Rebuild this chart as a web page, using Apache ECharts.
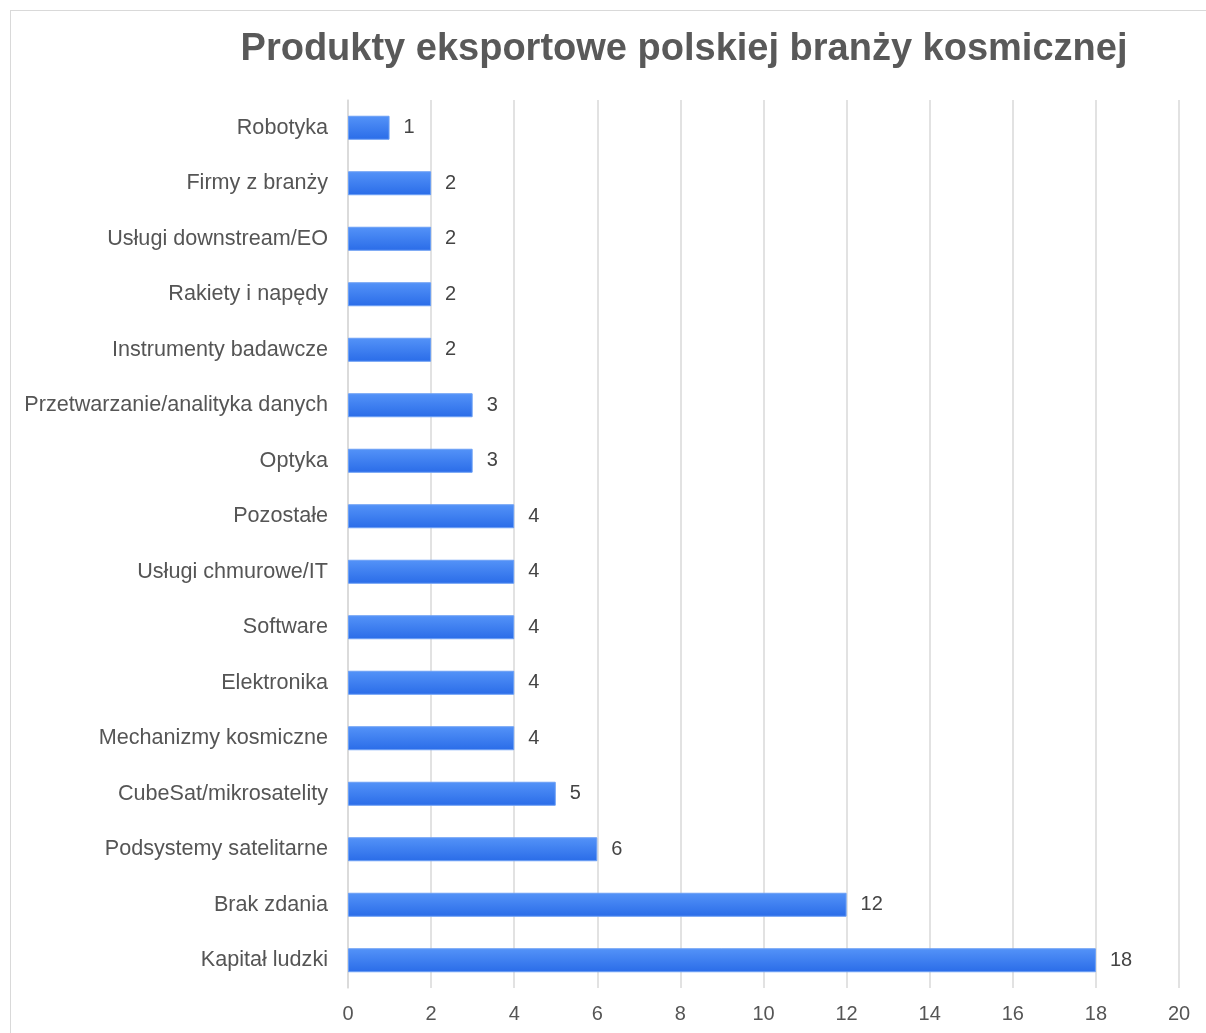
<!DOCTYPE html>
<html><head><meta charset="utf-8">
<script src="https://cdn.jsdelivr.net/npm/echarts@6/dist/echarts.min.js"></script>
<style>
html,body{margin:0;padding:0;background:#fff;}
#frame{position:absolute;left:10px;top:10px;width:1200px;height:1040px;border:1px solid #d9d9d9;box-sizing:border-box;}
#c{position:absolute;left:0;top:0;width:1206px;height:1033px;}
</style></head>
<body><div id="frame"></div><div id="c"></div>
<script>
const categories = ["Robotyka","Firmy z branży","Usługi downstream/EO","Rakiety i napędy","Instrumenty badawcze","Przetwarzanie/analityka danych","Optyka","Pozostałe","Usługi chmurowe/IT","Software","Elektronika","Mechanizmy kosmiczne","CubeSat/mikrosatelity","Podsystemy satelitarne","Brak zdania","Kapitał ludzki"];
const values = [1,2,2,2,2,3,3,4,4,4,4,4,5,6,12,18];
const titleText = "Produkty eksportowe polskiej branży kosmicznej";

const chart = echarts.init(document.getElementById('c'), null, {renderer:'canvas'});
chart.setOption({
  animation:false,
  title:{text:titleText,left:679,top:26,textAlign:'center',textStyle:{fontFamily:'Liberation Sans, Arial',fontSize:38,fontWeight:'bold',color:'#595959'}},
  grid:{left:348,right:27,top:100,bottom:45,containLabel:false},
  xAxis:{type:'value',min:0,max:20,interval:2,
    axisLine:{show:false},axisTick:{show:false},
    axisLabel:{fontFamily:'Liberation Sans, Arial',fontSize:20,color:'#555',margin:16},
    splitLine:{lineStyle:{color:'#d9d9d9',width:1.5}}},
  yAxis:{type:'category',data:categories,inverse:true,
    axisLine:{show:true,lineStyle:{color:'#d9d9d9',width:1.5}},axisTick:{show:false},
    axisLabel:{fontFamily:'Liberation Sans, Arial',fontSize:21.6,color:'#555',margin:20}},
  series:[{type:'bar',data:values,barWidth:24,
    itemStyle:{color:new echarts.graphic.LinearGradient(0,0,0,1,[{offset:0,color:'#5493f8'},{offset:1,color:'#2a6ce8'}]),borderColor:'#6b9ff5',borderWidth:1},
    label:{show:true,position:'right',distance:14,fontFamily:'Liberation Sans, Arial',fontSize:20,color:'#444'}}]
});
</script></body></html>
